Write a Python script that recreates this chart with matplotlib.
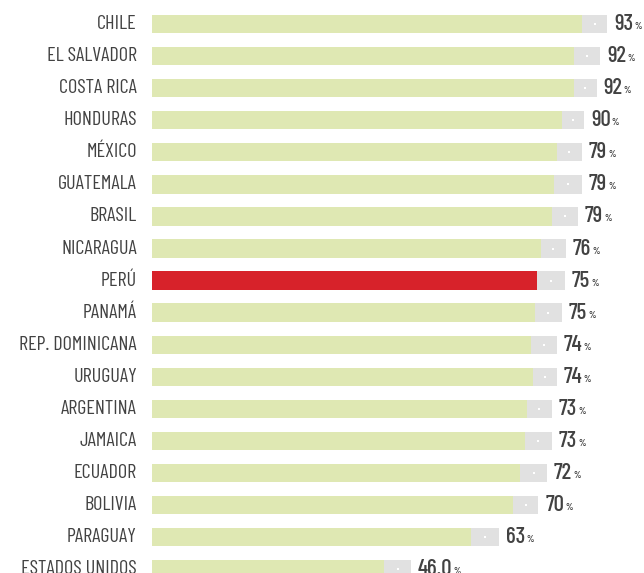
import matplotlib
matplotlib.use("Agg")
import matplotlib.pyplot as plt

# datos (orden de arriba a abajo)
paises = ["CHILE", "EL SALVADOR", "COSTA RICA", "HONDURAS", "MÉXICO", "GUATEMALA",
          "BRASIL", "NICARAGUA", "PERÚ", "PANAMÁ", "REP. DOMINICANA", "URUGUAY",
          "ARGENTINA", "JAMAICA", "ECUADOR", "BOLIVIA", "PARAGUAY", "ESTADOS UNIDOS"]
etiquetas = ["93", "92", "92", "90", "79", "79", "79", "76", "75", "75", "74", "74",
             "73", "73", "72", "70", "63", "46.0"]
# largo de la barra verde y largo total (verde + gris), en la escala del grafico
verde = [87.4, 85.8, 85.8, 83.3, 82.3, 81.7, 81.3, 79.1, 78.3, 77.8, 77.0, 77.4,
         76.2, 75.8, 74.8, 73.4, 64.8, 47.2]
total = [92.5, 91.1, 90.4, 87.8, 87.4, 87.4, 86.6, 84.1, 83.9, 83.3, 82.3, 82.3,
         81.3, 81.3, 80.3, 78.5, 70.5, 52.6]
destacado = "PERÚ"

plt.rcParams['font.family'] = ['Barlow Condensed', 'DejaVu Sans']

c_verde = '#dfe8b3'
c_gris = '#e1e1e1'
c_rojo = '#d7222a'
c_texto = '#424242'

W, H = 644, 573
fig = plt.figure(figsize=(W / 100, H / 100), dpi=100)
ax = fig.add_axes([152 / W, 0, 492 / W, 1])
ax.set_xlim(0, 100)
ax.set_ylim(17.12, -0.75)
ax.axis('off')

ys = list(range(len(paises)))
colores = [c_rojo if p == destacado else c_verde for p in paises]
resto = [t - v for t, v in zip(total, verde)]

ax.barh(ys, verde, height=0.57, color=colores, linewidth=0)
ax.barh(ys, resto, left=verde, height=0.57, color=c_gris, linewidth=0)
# pequena marca blanca dentro del tramo gris
medios = [v + r / 2 for v, r in zip(verde, resto)]
ax.scatter(medios, ys, marker='s', s=3, color='white', zorder=3, linewidths=0)

for y, p in zip(ys, paises):
    ax.annotate(p, xy=(0, y), xytext=(-15, 0), textcoords='offset pixels',
                ha='right', va='center', fontsize=14.5, color=c_texto)

fig.canvas.draw()
renderer = fig.canvas.get_renderer()
for y, t, lab in zip(ys, total, etiquetas):
    txt = ax.annotate(lab, xy=(t, y), xytext=(7, 0), textcoords='offset pixels',
                      ha='left', va='center', fontsize=16.5, color=c_texto,
                      fontweight='medium')
    bb = txt.get_window_extent(renderer)
    ax.annotate('%', xy=(bb.x1 + 1, bb.y0 + 3), xycoords='figure pixels',
                ha='left', va='bottom', fontsize=7, color=c_texto,
                fontweight='semibold')

fig.savefig("out.png", dpi=100)
